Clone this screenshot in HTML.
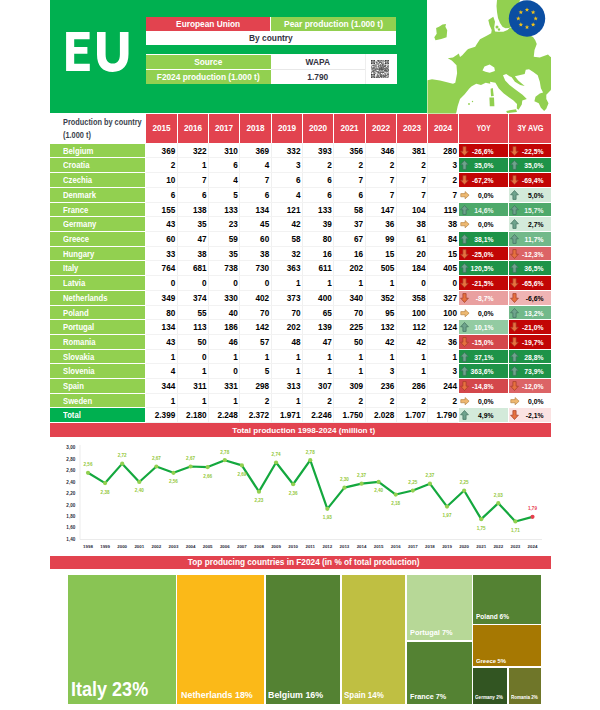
<!DOCTYPE html>
<html><head><meta charset="utf-8">
<style>
*{margin:0;padding:0;box-sizing:border-box}
html,body{width:600px;height:710px;background:#fff;overflow:hidden}
body{position:relative;font-family:"Liberation Sans",sans-serif;font-weight:bold}
.a{position:absolute}
.c{position:absolute;display:flex;align-items:center;justify-content:center;white-space:nowrap}
.num{position:absolute;text-align:right;white-space:nowrap;font-size:8.2px;color:#000}
.cn{position:absolute;left:50px;width:95px;background:#92d050;color:#fff;font-size:8.2px;padding-left:12.8px;padding-top:1.6px;display:flex;align-items:center}
</style></head><body>

<div class="a" style="left:50px;top:0;width:376.5px;height:113px;background:#00b050"></div>
<svg class="a" style="left:0;top:0" width="140" height="80" viewBox="0 0 140 80" fill="#fff"><path d="M66.1 32.1H89.6V39.2H74.2V47H87.4V53.8H74.2V63.8H89.8V70.9H66.1Z"/><path d="M97 32.1H105.6V54.2C105.6 60.6 108.2 63.6 112.8 63.6C117.4 63.6 119.9 60.6 119.9 54.2V32.1H128.5V54C128.5 65.6 122.6 71.9 112.7 71.9C102.6 71.9 97 65.8 97 54.4Z"/></svg>
<div class="a" style="left:145.8px;top:17px;width:250.2px;height:28px;background:#fff"></div>
<div class="c" style="left:145.8px;top:17px;width:124.7px;height:13.5px;background:#e2434f;color:#fff;font-size:8.3px">European Union</div>
<div class="c" style="left:271px;top:17px;width:125px;height:13.5px;background:#92d050;color:#fff;font-size:8.45px">Pear production (1.000 t)</div>
<div class="c" style="left:145.8px;top:30.5px;width:250.2px;height:14.5px;color:#33333f;font-size:8.4px">By country</div>
<div class="a" style="left:145.8px;top:54px;width:251px;height:30px;background:#fff"></div>
<div class="c" style="left:145.8px;top:54.8px;width:124.9px;height:14.2px;background:#92d050;color:#fff;font-size:8.3px">Source</div>
<div class="c" style="left:145.8px;top:70px;width:124.9px;height:14.2px;background:#92d050;color:#fff;font-size:8.3px">F2024 production (1.000 t)</div>
<div class="c" style="left:270.8px;top:54.5px;width:94px;height:14.5px;color:#33333f;font-size:8.4px">WAPA</div>
<div class="c" style="left:270.8px;top:69.5px;width:94px;height:14.5px;color:#33333f;font-size:8.4px">1.790</div>
<div class="a" style="left:270.8px;top:69px;width:94px;height:1px;background:#e8e8e8"></div>
<div class="a" style="left:364.8px;top:54px;width:1px;height:30px;background:#eeeeee"></div>
<svg class="a" style="left:370.8px;top:59.8px" width="18.2" height="18.2" viewBox="0 0 31 31" fill="#1a1a1a"><rect x="11" y="0" width="1.05" height="1.05"/><rect x="12" y="0" width="1.05" height="1.05"/><rect x="13" y="0" width="1.05" height="1.05"/><rect x="16" y="0" width="1.05" height="1.05"/><rect x="17" y="0" width="1.05" height="1.05"/><rect x="18" y="0" width="1.05" height="1.05"/><rect x="21" y="0" width="1.05" height="1.05"/><rect x="10" y="1" width="1.05" height="1.05"/><rect x="11" y="1" width="1.05" height="1.05"/><rect x="12" y="1" width="1.05" height="1.05"/><rect x="13" y="1" width="1.05" height="1.05"/><rect x="14" y="1" width="1.05" height="1.05"/><rect x="15" y="1" width="1.05" height="1.05"/><rect x="17" y="1" width="1.05" height="1.05"/><rect x="19" y="1" width="1.05" height="1.05"/><rect x="20" y="1" width="1.05" height="1.05"/><rect x="22" y="1" width="1.05" height="1.05"/><rect x="8" y="2" width="1.05" height="1.05"/><rect x="12" y="2" width="1.05" height="1.05"/><rect x="13" y="2" width="1.05" height="1.05"/><rect x="16" y="2" width="1.05" height="1.05"/><rect x="20" y="2" width="1.05" height="1.05"/><rect x="22" y="2" width="1.05" height="1.05"/><rect x="9" y="3" width="1.05" height="1.05"/><rect x="10" y="3" width="1.05" height="1.05"/><rect x="13" y="3" width="1.05" height="1.05"/><rect x="14" y="3" width="1.05" height="1.05"/><rect x="15" y="3" width="1.05" height="1.05"/><rect x="17" y="3" width="1.05" height="1.05"/><rect x="18" y="3" width="1.05" height="1.05"/><rect x="20" y="3" width="1.05" height="1.05"/><rect x="8" y="4" width="1.05" height="1.05"/><rect x="9" y="4" width="1.05" height="1.05"/><rect x="10" y="4" width="1.05" height="1.05"/><rect x="14" y="4" width="1.05" height="1.05"/><rect x="15" y="4" width="1.05" height="1.05"/><rect x="16" y="4" width="1.05" height="1.05"/><rect x="17" y="4" width="1.05" height="1.05"/><rect x="20" y="4" width="1.05" height="1.05"/><rect x="9" y="5" width="1.05" height="1.05"/><rect x="13" y="5" width="1.05" height="1.05"/><rect x="17" y="5" width="1.05" height="1.05"/><rect x="10" y="6" width="1.05" height="1.05"/><rect x="11" y="6" width="1.05" height="1.05"/><rect x="12" y="6" width="1.05" height="1.05"/><rect x="14" y="6" width="1.05" height="1.05"/><rect x="17" y="6" width="1.05" height="1.05"/><rect x="18" y="6" width="1.05" height="1.05"/><rect x="19" y="6" width="1.05" height="1.05"/><rect x="20" y="6" width="1.05" height="1.05"/><rect x="21" y="6" width="1.05" height="1.05"/><rect x="22" y="6" width="1.05" height="1.05"/><rect x="8" y="7" width="1.05" height="1.05"/><rect x="10" y="7" width="1.05" height="1.05"/><rect x="12" y="7" width="1.05" height="1.05"/><rect x="16" y="7" width="1.05" height="1.05"/><rect x="19" y="7" width="1.05" height="1.05"/><rect x="20" y="7" width="1.05" height="1.05"/><rect x="1" y="8" width="1.05" height="1.05"/><rect x="4" y="8" width="1.05" height="1.05"/><rect x="5" y="8" width="1.05" height="1.05"/><rect x="6" y="8" width="1.05" height="1.05"/><rect x="7" y="8" width="1.05" height="1.05"/><rect x="9" y="8" width="1.05" height="1.05"/><rect x="13" y="8" width="1.05" height="1.05"/><rect x="15" y="8" width="1.05" height="1.05"/><rect x="16" y="8" width="1.05" height="1.05"/><rect x="17" y="8" width="1.05" height="1.05"/><rect x="19" y="8" width="1.05" height="1.05"/><rect x="20" y="8" width="1.05" height="1.05"/><rect x="21" y="8" width="1.05" height="1.05"/><rect x="22" y="8" width="1.05" height="1.05"/><rect x="24" y="8" width="1.05" height="1.05"/><rect x="25" y="8" width="1.05" height="1.05"/><rect x="28" y="8" width="1.05" height="1.05"/><rect x="30" y="8" width="1.05" height="1.05"/><rect x="2" y="9" width="1.05" height="1.05"/><rect x="3" y="9" width="1.05" height="1.05"/><rect x="4" y="9" width="1.05" height="1.05"/><rect x="6" y="9" width="1.05" height="1.05"/><rect x="8" y="9" width="1.05" height="1.05"/><rect x="12" y="9" width="1.05" height="1.05"/><rect x="14" y="9" width="1.05" height="1.05"/><rect x="16" y="9" width="1.05" height="1.05"/><rect x="17" y="9" width="1.05" height="1.05"/><rect x="19" y="9" width="1.05" height="1.05"/><rect x="20" y="9" width="1.05" height="1.05"/><rect x="23" y="9" width="1.05" height="1.05"/><rect x="24" y="9" width="1.05" height="1.05"/><rect x="25" y="9" width="1.05" height="1.05"/><rect x="29" y="9" width="1.05" height="1.05"/><rect x="0" y="10" width="1.05" height="1.05"/><rect x="4" y="10" width="1.05" height="1.05"/><rect x="6" y="10" width="1.05" height="1.05"/><rect x="7" y="10" width="1.05" height="1.05"/><rect x="9" y="10" width="1.05" height="1.05"/><rect x="10" y="10" width="1.05" height="1.05"/><rect x="12" y="10" width="1.05" height="1.05"/><rect x="15" y="10" width="1.05" height="1.05"/><rect x="16" y="10" width="1.05" height="1.05"/><rect x="19" y="10" width="1.05" height="1.05"/><rect x="20" y="10" width="1.05" height="1.05"/><rect x="22" y="10" width="1.05" height="1.05"/><rect x="23" y="10" width="1.05" height="1.05"/><rect x="24" y="10" width="1.05" height="1.05"/><rect x="27" y="10" width="1.05" height="1.05"/><rect x="28" y="10" width="1.05" height="1.05"/><rect x="1" y="11" width="1.05" height="1.05"/><rect x="6" y="11" width="1.05" height="1.05"/><rect x="8" y="11" width="1.05" height="1.05"/><rect x="12" y="11" width="1.05" height="1.05"/><rect x="13" y="11" width="1.05" height="1.05"/><rect x="15" y="11" width="1.05" height="1.05"/><rect x="17" y="11" width="1.05" height="1.05"/><rect x="18" y="11" width="1.05" height="1.05"/><rect x="20" y="11" width="1.05" height="1.05"/><rect x="21" y="11" width="1.05" height="1.05"/><rect x="22" y="11" width="1.05" height="1.05"/><rect x="23" y="11" width="1.05" height="1.05"/><rect x="24" y="11" width="1.05" height="1.05"/><rect x="28" y="11" width="1.05" height="1.05"/><rect x="29" y="11" width="1.05" height="1.05"/><rect x="30" y="11" width="1.05" height="1.05"/><rect x="1" y="12" width="1.05" height="1.05"/><rect x="3" y="12" width="1.05" height="1.05"/><rect x="4" y="12" width="1.05" height="1.05"/><rect x="6" y="12" width="1.05" height="1.05"/><rect x="8" y="12" width="1.05" height="1.05"/><rect x="12" y="12" width="1.05" height="1.05"/><rect x="14" y="12" width="1.05" height="1.05"/><rect x="16" y="12" width="1.05" height="1.05"/><rect x="17" y="12" width="1.05" height="1.05"/><rect x="18" y="12" width="1.05" height="1.05"/><rect x="19" y="12" width="1.05" height="1.05"/><rect x="21" y="12" width="1.05" height="1.05"/><rect x="24" y="12" width="1.05" height="1.05"/><rect x="26" y="12" width="1.05" height="1.05"/><rect x="27" y="12" width="1.05" height="1.05"/><rect x="29" y="12" width="1.05" height="1.05"/><rect x="0" y="13" width="1.05" height="1.05"/><rect x="1" y="13" width="1.05" height="1.05"/><rect x="3" y="13" width="1.05" height="1.05"/><rect x="5" y="13" width="1.05" height="1.05"/><rect x="6" y="13" width="1.05" height="1.05"/><rect x="9" y="13" width="1.05" height="1.05"/><rect x="10" y="13" width="1.05" height="1.05"/><rect x="14" y="13" width="1.05" height="1.05"/><rect x="16" y="13" width="1.05" height="1.05"/><rect x="17" y="13" width="1.05" height="1.05"/><rect x="18" y="13" width="1.05" height="1.05"/><rect x="20" y="13" width="1.05" height="1.05"/><rect x="21" y="13" width="1.05" height="1.05"/><rect x="22" y="13" width="1.05" height="1.05"/><rect x="26" y="13" width="1.05" height="1.05"/><rect x="28" y="13" width="1.05" height="1.05"/><rect x="1" y="14" width="1.05" height="1.05"/><rect x="2" y="14" width="1.05" height="1.05"/><rect x="3" y="14" width="1.05" height="1.05"/><rect x="4" y="14" width="1.05" height="1.05"/><rect x="5" y="14" width="1.05" height="1.05"/><rect x="7" y="14" width="1.05" height="1.05"/><rect x="9" y="14" width="1.05" height="1.05"/><rect x="10" y="14" width="1.05" height="1.05"/><rect x="13" y="14" width="1.05" height="1.05"/><rect x="14" y="14" width="1.05" height="1.05"/><rect x="15" y="14" width="1.05" height="1.05"/><rect x="16" y="14" width="1.05" height="1.05"/><rect x="17" y="14" width="1.05" height="1.05"/><rect x="18" y="14" width="1.05" height="1.05"/><rect x="19" y="14" width="1.05" height="1.05"/><rect x="21" y="14" width="1.05" height="1.05"/><rect x="22" y="14" width="1.05" height="1.05"/><rect x="23" y="14" width="1.05" height="1.05"/><rect x="24" y="14" width="1.05" height="1.05"/><rect x="25" y="14" width="1.05" height="1.05"/><rect x="26" y="14" width="1.05" height="1.05"/><rect x="27" y="14" width="1.05" height="1.05"/><rect x="28" y="14" width="1.05" height="1.05"/><rect x="30" y="14" width="1.05" height="1.05"/><rect x="3" y="15" width="1.05" height="1.05"/><rect x="5" y="15" width="1.05" height="1.05"/><rect x="7" y="15" width="1.05" height="1.05"/><rect x="10" y="15" width="1.05" height="1.05"/><rect x="11" y="15" width="1.05" height="1.05"/><rect x="12" y="15" width="1.05" height="1.05"/><rect x="13" y="15" width="1.05" height="1.05"/><rect x="14" y="15" width="1.05" height="1.05"/><rect x="15" y="15" width="1.05" height="1.05"/><rect x="17" y="15" width="1.05" height="1.05"/><rect x="18" y="15" width="1.05" height="1.05"/><rect x="19" y="15" width="1.05" height="1.05"/><rect x="20" y="15" width="1.05" height="1.05"/><rect x="23" y="15" width="1.05" height="1.05"/><rect x="24" y="15" width="1.05" height="1.05"/><rect x="28" y="15" width="1.05" height="1.05"/><rect x="30" y="15" width="1.05" height="1.05"/><rect x="0" y="16" width="1.05" height="1.05"/><rect x="2" y="16" width="1.05" height="1.05"/><rect x="3" y="16" width="1.05" height="1.05"/><rect x="6" y="16" width="1.05" height="1.05"/><rect x="7" y="16" width="1.05" height="1.05"/><rect x="8" y="16" width="1.05" height="1.05"/><rect x="9" y="16" width="1.05" height="1.05"/><rect x="11" y="16" width="1.05" height="1.05"/><rect x="13" y="16" width="1.05" height="1.05"/><rect x="14" y="16" width="1.05" height="1.05"/><rect x="15" y="16" width="1.05" height="1.05"/><rect x="16" y="16" width="1.05" height="1.05"/><rect x="17" y="16" width="1.05" height="1.05"/><rect x="18" y="16" width="1.05" height="1.05"/><rect x="19" y="16" width="1.05" height="1.05"/><rect x="20" y="16" width="1.05" height="1.05"/><rect x="21" y="16" width="1.05" height="1.05"/><rect x="22" y="16" width="1.05" height="1.05"/><rect x="24" y="16" width="1.05" height="1.05"/><rect x="25" y="16" width="1.05" height="1.05"/><rect x="26" y="16" width="1.05" height="1.05"/><rect x="28" y="16" width="1.05" height="1.05"/><rect x="29" y="16" width="1.05" height="1.05"/><rect x="30" y="16" width="1.05" height="1.05"/><rect x="4" y="17" width="1.05" height="1.05"/><rect x="5" y="17" width="1.05" height="1.05"/><rect x="7" y="17" width="1.05" height="1.05"/><rect x="9" y="17" width="1.05" height="1.05"/><rect x="13" y="17" width="1.05" height="1.05"/><rect x="14" y="17" width="1.05" height="1.05"/><rect x="16" y="17" width="1.05" height="1.05"/><rect x="17" y="17" width="1.05" height="1.05"/><rect x="18" y="17" width="1.05" height="1.05"/><rect x="19" y="17" width="1.05" height="1.05"/><rect x="22" y="17" width="1.05" height="1.05"/><rect x="23" y="17" width="1.05" height="1.05"/><rect x="24" y="17" width="1.05" height="1.05"/><rect x="25" y="17" width="1.05" height="1.05"/><rect x="26" y="17" width="1.05" height="1.05"/><rect x="27" y="17" width="1.05" height="1.05"/><rect x="29" y="17" width="1.05" height="1.05"/><rect x="30" y="17" width="1.05" height="1.05"/><rect x="1" y="18" width="1.05" height="1.05"/><rect x="2" y="18" width="1.05" height="1.05"/><rect x="3" y="18" width="1.05" height="1.05"/><rect x="4" y="18" width="1.05" height="1.05"/><rect x="5" y="18" width="1.05" height="1.05"/><rect x="6" y="18" width="1.05" height="1.05"/><rect x="7" y="18" width="1.05" height="1.05"/><rect x="14" y="18" width="1.05" height="1.05"/><rect x="20" y="18" width="1.05" height="1.05"/><rect x="22" y="18" width="1.05" height="1.05"/><rect x="23" y="18" width="1.05" height="1.05"/><rect x="24" y="18" width="1.05" height="1.05"/><rect x="25" y="18" width="1.05" height="1.05"/><rect x="26" y="18" width="1.05" height="1.05"/><rect x="28" y="18" width="1.05" height="1.05"/><rect x="29" y="18" width="1.05" height="1.05"/><rect x="1" y="19" width="1.05" height="1.05"/><rect x="2" y="19" width="1.05" height="1.05"/><rect x="3" y="19" width="1.05" height="1.05"/><rect x="4" y="19" width="1.05" height="1.05"/><rect x="8" y="19" width="1.05" height="1.05"/><rect x="9" y="19" width="1.05" height="1.05"/><rect x="10" y="19" width="1.05" height="1.05"/><rect x="11" y="19" width="1.05" height="1.05"/><rect x="12" y="19" width="1.05" height="1.05"/><rect x="16" y="19" width="1.05" height="1.05"/><rect x="18" y="19" width="1.05" height="1.05"/><rect x="20" y="19" width="1.05" height="1.05"/><rect x="23" y="19" width="1.05" height="1.05"/><rect x="24" y="19" width="1.05" height="1.05"/><rect x="26" y="19" width="1.05" height="1.05"/><rect x="27" y="19" width="1.05" height="1.05"/><rect x="28" y="19" width="1.05" height="1.05"/><rect x="3" y="20" width="1.05" height="1.05"/><rect x="5" y="20" width="1.05" height="1.05"/><rect x="6" y="20" width="1.05" height="1.05"/><rect x="8" y="20" width="1.05" height="1.05"/><rect x="10" y="20" width="1.05" height="1.05"/><rect x="12" y="20" width="1.05" height="1.05"/><rect x="13" y="20" width="1.05" height="1.05"/><rect x="14" y="20" width="1.05" height="1.05"/><rect x="15" y="20" width="1.05" height="1.05"/><rect x="17" y="20" width="1.05" height="1.05"/><rect x="19" y="20" width="1.05" height="1.05"/><rect x="20" y="20" width="1.05" height="1.05"/><rect x="21" y="20" width="1.05" height="1.05"/><rect x="26" y="20" width="1.05" height="1.05"/><rect x="27" y="20" width="1.05" height="1.05"/><rect x="29" y="20" width="1.05" height="1.05"/><rect x="30" y="20" width="1.05" height="1.05"/><rect x="0" y="21" width="1.05" height="1.05"/><rect x="1" y="21" width="1.05" height="1.05"/><rect x="4" y="21" width="1.05" height="1.05"/><rect x="6" y="21" width="1.05" height="1.05"/><rect x="11" y="21" width="1.05" height="1.05"/><rect x="12" y="21" width="1.05" height="1.05"/><rect x="13" y="21" width="1.05" height="1.05"/><rect x="15" y="21" width="1.05" height="1.05"/><rect x="16" y="21" width="1.05" height="1.05"/><rect x="17" y="21" width="1.05" height="1.05"/><rect x="18" y="21" width="1.05" height="1.05"/><rect x="19" y="21" width="1.05" height="1.05"/><rect x="20" y="21" width="1.05" height="1.05"/><rect x="21" y="21" width="1.05" height="1.05"/><rect x="23" y="21" width="1.05" height="1.05"/><rect x="0" y="22" width="1.05" height="1.05"/><rect x="4" y="22" width="1.05" height="1.05"/><rect x="5" y="22" width="1.05" height="1.05"/><rect x="6" y="22" width="1.05" height="1.05"/><rect x="7" y="22" width="1.05" height="1.05"/><rect x="11" y="22" width="1.05" height="1.05"/><rect x="13" y="22" width="1.05" height="1.05"/><rect x="15" y="22" width="1.05" height="1.05"/><rect x="24" y="22" width="1.05" height="1.05"/><rect x="25" y="22" width="1.05" height="1.05"/><rect x="27" y="22" width="1.05" height="1.05"/><rect x="30" y="22" width="1.05" height="1.05"/><rect x="8" y="23" width="1.05" height="1.05"/><rect x="12" y="23" width="1.05" height="1.05"/><rect x="14" y="23" width="1.05" height="1.05"/><rect x="15" y="23" width="1.05" height="1.05"/><rect x="16" y="23" width="1.05" height="1.05"/><rect x="19" y="23" width="1.05" height="1.05"/><rect x="22" y="23" width="1.05" height="1.05"/><rect x="23" y="23" width="1.05" height="1.05"/><rect x="28" y="23" width="1.05" height="1.05"/><rect x="29" y="23" width="1.05" height="1.05"/><rect x="10" y="24" width="1.05" height="1.05"/><rect x="11" y="24" width="1.05" height="1.05"/><rect x="16" y="24" width="1.05" height="1.05"/><rect x="17" y="24" width="1.05" height="1.05"/><rect x="20" y="24" width="1.05" height="1.05"/><rect x="24" y="24" width="1.05" height="1.05"/><rect x="27" y="24" width="1.05" height="1.05"/><rect x="28" y="24" width="1.05" height="1.05"/><rect x="29" y="24" width="1.05" height="1.05"/><rect x="30" y="24" width="1.05" height="1.05"/><rect x="13" y="25" width="1.05" height="1.05"/><rect x="14" y="25" width="1.05" height="1.05"/><rect x="15" y="25" width="1.05" height="1.05"/><rect x="16" y="25" width="1.05" height="1.05"/><rect x="17" y="25" width="1.05" height="1.05"/><rect x="18" y="25" width="1.05" height="1.05"/><rect x="21" y="25" width="1.05" height="1.05"/><rect x="22" y="25" width="1.05" height="1.05"/><rect x="24" y="25" width="1.05" height="1.05"/><rect x="25" y="25" width="1.05" height="1.05"/><rect x="27" y="25" width="1.05" height="1.05"/><rect x="29" y="25" width="1.05" height="1.05"/><rect x="10" y="26" width="1.05" height="1.05"/><rect x="11" y="26" width="1.05" height="1.05"/><rect x="12" y="26" width="1.05" height="1.05"/><rect x="16" y="26" width="1.05" height="1.05"/><rect x="17" y="26" width="1.05" height="1.05"/><rect x="19" y="26" width="1.05" height="1.05"/><rect x="20" y="26" width="1.05" height="1.05"/><rect x="21" y="26" width="1.05" height="1.05"/><rect x="22" y="26" width="1.05" height="1.05"/><rect x="24" y="26" width="1.05" height="1.05"/><rect x="25" y="26" width="1.05" height="1.05"/><rect x="26" y="26" width="1.05" height="1.05"/><rect x="27" y="26" width="1.05" height="1.05"/><rect x="30" y="26" width="1.05" height="1.05"/><rect x="8" y="27" width="1.05" height="1.05"/><rect x="9" y="27" width="1.05" height="1.05"/><rect x="10" y="27" width="1.05" height="1.05"/><rect x="11" y="27" width="1.05" height="1.05"/><rect x="12" y="27" width="1.05" height="1.05"/><rect x="13" y="27" width="1.05" height="1.05"/><rect x="15" y="27" width="1.05" height="1.05"/><rect x="16" y="27" width="1.05" height="1.05"/><rect x="17" y="27" width="1.05" height="1.05"/><rect x="18" y="27" width="1.05" height="1.05"/><rect x="21" y="27" width="1.05" height="1.05"/><rect x="22" y="27" width="1.05" height="1.05"/><rect x="23" y="27" width="1.05" height="1.05"/><rect x="25" y="27" width="1.05" height="1.05"/><rect x="30" y="27" width="1.05" height="1.05"/><rect x="10" y="28" width="1.05" height="1.05"/><rect x="12" y="28" width="1.05" height="1.05"/><rect x="15" y="28" width="1.05" height="1.05"/><rect x="16" y="28" width="1.05" height="1.05"/><rect x="17" y="28" width="1.05" height="1.05"/><rect x="18" y="28" width="1.05" height="1.05"/><rect x="19" y="28" width="1.05" height="1.05"/><rect x="21" y="28" width="1.05" height="1.05"/><rect x="22" y="28" width="1.05" height="1.05"/><rect x="23" y="28" width="1.05" height="1.05"/><rect x="24" y="28" width="1.05" height="1.05"/><rect x="25" y="28" width="1.05" height="1.05"/><rect x="28" y="28" width="1.05" height="1.05"/><rect x="29" y="28" width="1.05" height="1.05"/><rect x="8" y="29" width="1.05" height="1.05"/><rect x="9" y="29" width="1.05" height="1.05"/><rect x="11" y="29" width="1.05" height="1.05"/><rect x="13" y="29" width="1.05" height="1.05"/><rect x="14" y="29" width="1.05" height="1.05"/><rect x="17" y="29" width="1.05" height="1.05"/><rect x="18" y="29" width="1.05" height="1.05"/><rect x="20" y="29" width="1.05" height="1.05"/><rect x="21" y="29" width="1.05" height="1.05"/><rect x="22" y="29" width="1.05" height="1.05"/><rect x="25" y="29" width="1.05" height="1.05"/><rect x="27" y="29" width="1.05" height="1.05"/><rect x="30" y="29" width="1.05" height="1.05"/><rect x="8" y="30" width="1.05" height="1.05"/><rect x="9" y="30" width="1.05" height="1.05"/><rect x="10" y="30" width="1.05" height="1.05"/><rect x="11" y="30" width="1.05" height="1.05"/><rect x="12" y="30" width="1.05" height="1.05"/><rect x="13" y="30" width="1.05" height="1.05"/><rect x="14" y="30" width="1.05" height="1.05"/><rect x="15" y="30" width="1.05" height="1.05"/><rect x="18" y="30" width="1.05" height="1.05"/><rect x="24" y="30" width="1.05" height="1.05"/><rect x="25" y="30" width="1.05" height="1.05"/><rect x="27" y="30" width="1.05" height="1.05"/><rect x="28" y="30" width="1.05" height="1.05"/><rect x="0.6" y="0.6" width="5.8" height="5.8" fill="none" stroke="#111" stroke-width="1.0"/><rect x="2.3" y="2.3" width="2.4" height="2.4"/><rect x="24.6" y="0.6" width="5.8" height="5.8" fill="none" stroke="#111" stroke-width="1.0"/><rect x="26.3" y="2.3" width="2.4" height="2.4"/><rect x="0.6" y="24.6" width="5.8" height="5.8" fill="none" stroke="#111" stroke-width="1.0"/><rect x="2.3" y="26.3" width="2.4" height="2.4"/></svg>
<svg class="a" style="left:425px;top:0" width="130" height="114" viewBox="425 0 130 114">
<g fill="#92d050"><polygon points="427.5,80.3 432,79.2 440,80.5 448,82.5 453,83.8 455.3,82.7 457.1,73.3 456.5,65.2 451.8,60.5 447.75,58.2 453,57.6 457.1,54.7 458.8,53.5 460,57 462.3,55.25 467,50 468.2,49 475.2,46.7 476.7,44.2 480,39.2 486.7,35.8 491.2,33.3 491.7,30 489.5,25 488.3,20 493.3,16.7 495,21.7 494.2,27.5 495,31.5 497.5,31.7 503.3,31.7 507.5,30 510,27.5 520,30 533,36.9 535.25,40.25 536.75,44 534.5,50 533.75,56.75 539.75,57.5 548,54.5 550.25,56.75 551,57 551,89.3 550.7,90.3 546.3,94.7 546.3,99 548.5,103.3 546.3,108.75 544.2,110.9 540.9,107.7 538.75,103.3 534.4,101.2 535.5,96.8 539.8,93.6 543.1,92.5 540.9,88.2 539.8,81.7 537.7,75.2 533.3,71.9 529,69.2 525.75,69.75 524.7,74.1 514.9,76.25 518.2,80.6 524.7,86 520.3,85 514.9,81.7 511.7,77.3 509.5,76.25 506.25,74.1 503,75.2 505.2,80.6 509.5,84.9 515,89.25 522.5,94.7 526.8,99 522.3,100.5 521.8,104.5 518.5,109.8 516.8,108.5 517,104 513.5,100.5 508.5,97 503.5,93.2 498.8,88.5 495.4,82.75 490,81.7 490.3,83.8 485.7,82.7 481,85 476.3,83.8 471.7,86.2 469.3,88.5 464.7,94.3 460,99 457.7,106 456.5,111.8 456,113.5 427.5,113.5"/><polygon points="434.3,37.3 436.7,33.8 436.1,28 439,26.8 442.5,24.5 446,23.9 445.4,26.8 447.2,30.3 446.6,37.3 441.3,39.1 435.5,40.3"/><polygon points="497,0 496.5,6 497,12 498,18 500,23 502.5,26.8 505.5,28.2 509,28 512,26.5 515,15 520,0"/><polygon points="490.6,88.75 492.8,88 493.75,96 491,96.25"/><polygon points="489.4,97.5 494,97.5 494.4,106.25 489.8,106.25"/><polygon points="506.25,110.9 516,109.3 517,112 507,113"/><circle cx="469" cy="104" r="0.9"/><circle cx="472.5" cy="101.5" r="0.7"/><circle cx="497" cy="27" r="1.5"/><circle cx="499" cy="29.5" r="1.2"/></g>
<polygon points="482.5,70.5 484.5,66.5 489.7,64.6 494.3,67.5 494.9,71 489.7,72.8 485.5,71.8" fill="#fff"/>
<circle cx="527" cy="18.5" r="18.2" fill="#0b4ea2"/>
<polygon points="527.00,7.45 527.59,8.99 529.23,9.07 527.95,10.11 528.38,11.70 527.00,10.80 525.62,11.70 526.05,10.11 524.77,9.07 526.41,8.99" fill="#f2c21a"/>
<polygon points="533.15,10.00 533.74,11.54 535.39,11.62 534.10,12.66 534.53,14.25 533.15,13.35 531.77,14.25 532.20,12.66 530.92,11.62 532.56,11.54" fill="#f2c21a"/>
<polygon points="535.70,16.15 536.29,17.69 537.93,17.77 536.65,18.81 537.08,20.40 535.70,19.50 534.32,20.40 534.75,18.81 533.47,17.77 535.11,17.69" fill="#f2c21a"/>
<polygon points="533.15,22.30 533.74,23.84 535.39,23.93 534.10,24.96 534.53,26.55 533.15,25.65 531.77,26.55 532.20,24.96 530.92,23.93 532.56,23.84" fill="#f2c21a"/>
<polygon points="527.00,24.85 527.59,26.39 529.23,26.47 527.95,27.51 528.38,29.10 527.00,28.20 525.62,29.10 526.05,27.51 524.77,26.47 526.41,26.39" fill="#f2c21a"/>
<polygon points="520.85,22.30 521.44,23.84 523.08,23.93 521.80,24.96 522.23,26.55 520.85,25.65 519.47,26.55 519.90,24.96 518.61,23.93 520.26,23.84" fill="#f2c21a"/>
<polygon points="518.30,16.15 518.89,17.69 520.53,17.77 519.25,18.81 519.68,20.40 518.30,19.50 516.92,20.40 517.35,18.81 516.07,17.77 517.71,17.69" fill="#f2c21a"/>
<polygon points="520.85,10.00 521.44,11.54 523.08,11.62 521.80,12.66 522.23,14.25 520.85,13.35 519.47,14.25 519.90,12.66 518.61,11.62 520.26,11.54" fill="#f2c21a"/>
</svg>
<div class="a" style="left:63px;top:117.3px;font-size:8.2px;line-height:12.2px;color:#3a3f4c;transform:scaleX(0.9);transform-origin:0 0">Production by country<br>(1.000 t)</div>
<div class="c" style="left:146px;top:114px;width:31px;height:28.5px;background:#e2434f;color:#fff;font-size:8.2px">2015</div>
<div class="c" style="left:178px;top:114px;width:30px;height:28.5px;background:#e2434f;color:#fff;font-size:8.2px">2016</div>
<div class="c" style="left:209px;top:114px;width:30px;height:28.5px;background:#e2434f;color:#fff;font-size:8.2px">2017</div>
<div class="c" style="left:240px;top:114px;width:31px;height:28.5px;background:#e2434f;color:#fff;font-size:8.2px">2018</div>
<div class="c" style="left:272px;top:114px;width:30px;height:28.5px;background:#e2434f;color:#fff;font-size:8.2px">2019</div>
<div class="c" style="left:303px;top:114px;width:30px;height:28.5px;background:#e2434f;color:#fff;font-size:8.2px">2020</div>
<div class="c" style="left:334px;top:114px;width:31px;height:28.5px;background:#e2434f;color:#fff;font-size:8.2px">2021</div>
<div class="c" style="left:366px;top:114px;width:30px;height:28.5px;background:#e2434f;color:#fff;font-size:8.2px">2022</div>
<div class="c" style="left:397px;top:114px;width:30px;height:28.5px;background:#e2434f;color:#fff;font-size:8.2px">2023</div>
<div class="c" style="left:428px;top:114px;width:30px;height:28.5px;background:#e2434f;color:#fff;font-size:8.2px">2024</div>
<div class="c" style="left:459px;top:114px;width:49px;height:28.5px;background:#e2434f;color:#fff;font-size:8.2px"><span style="display:inline-block;transform:scaleX(0.8)">YOY</span></div>
<div class="c" style="left:509px;top:114px;width:42px;height:28.5px;background:#e2434f;color:#fff;font-size:8.2px"><span style="display:inline-block;transform:scaleX(0.9)">3Y AVG</span></div>
<div class="a" style="left:177px;top:143px;width:1px;height:279.5px;background:#f0f0f0"></div>
<div class="a" style="left:208px;top:143px;width:1px;height:279.5px;background:#f0f0f0"></div>
<div class="a" style="left:239px;top:143px;width:1px;height:279.5px;background:#f0f0f0"></div>
<div class="a" style="left:271px;top:143px;width:1px;height:279.5px;background:#f0f0f0"></div>
<div class="a" style="left:302px;top:143px;width:1px;height:279.5px;background:#f0f0f0"></div>
<div class="a" style="left:333px;top:143px;width:1px;height:279.5px;background:#f0f0f0"></div>
<div class="a" style="left:365px;top:143px;width:1px;height:279.5px;background:#f0f0f0"></div>
<div class="a" style="left:396px;top:143px;width:1px;height:279.5px;background:#f0f0f0"></div>
<div class="a" style="left:427px;top:143px;width:1px;height:279.5px;background:#f0f0f0"></div>
<div class="a" style="left:146px;top:157.00px;width:312px;height:0.8px;background:#f2f2f2"></div>
<div class="a" style="left:146px;top:172.00px;width:312px;height:0.8px;background:#f2f2f2"></div>
<div class="a" style="left:146px;top:187.00px;width:312px;height:0.8px;background:#f2f2f2"></div>
<div class="a" style="left:146px;top:202.00px;width:312px;height:0.8px;background:#f2f2f2"></div>
<div class="a" style="left:146px;top:216.00px;width:312px;height:0.8px;background:#f2f2f2"></div>
<div class="a" style="left:146px;top:231.00px;width:312px;height:0.8px;background:#f2f2f2"></div>
<div class="a" style="left:146px;top:246.00px;width:312px;height:0.8px;background:#f2f2f2"></div>
<div class="a" style="left:146px;top:260.00px;width:312px;height:0.8px;background:#f2f2f2"></div>
<div class="a" style="left:146px;top:275.00px;width:312px;height:0.8px;background:#f2f2f2"></div>
<div class="a" style="left:146px;top:290.00px;width:312px;height:0.8px;background:#f2f2f2"></div>
<div class="a" style="left:146px;top:305.00px;width:312px;height:0.8px;background:#f2f2f2"></div>
<div class="a" style="left:146px;top:319.00px;width:312px;height:0.8px;background:#f2f2f2"></div>
<div class="a" style="left:146px;top:334.00px;width:312px;height:0.8px;background:#f2f2f2"></div>
<div class="a" style="left:146px;top:349.00px;width:312px;height:0.8px;background:#f2f2f2"></div>
<div class="a" style="left:146px;top:363.00px;width:312px;height:0.8px;background:#f2f2f2"></div>
<div class="a" style="left:146px;top:378.00px;width:312px;height:0.8px;background:#f2f2f2"></div>
<div class="a" style="left:146px;top:393.00px;width:312px;height:0.8px;background:#f2f2f2"></div>
<div class="a" style="left:146px;top:407.00px;width:312px;height:0.8px;background:#f2f2f2"></div>
<div class="a" style="left:146px;top:422.00px;width:312px;height:0.8px;background:#f2f2f2"></div>
<div class="cn" style="top:144.00px;height:13.00px;background:#92d050"><span style="display:inline-block;transform:scaleX(0.94);transform-origin:0 50%">Belgium</span></div>
<div class="num" style="left:146.40px;top:145.00px;width:28.90px;line-height:13.00px">369</div>
<div class="num" style="left:177.70px;top:145.00px;width:28.90px;line-height:13.00px">322</div>
<div class="num" style="left:209.00px;top:145.00px;width:28.90px;line-height:13.00px">310</div>
<div class="num" style="left:240.30px;top:145.00px;width:28.90px;line-height:13.00px">369</div>
<div class="num" style="left:271.60px;top:145.00px;width:28.90px;line-height:13.00px">332</div>
<div class="num" style="left:302.90px;top:145.00px;width:28.90px;line-height:13.00px">393</div>
<div class="num" style="left:334.20px;top:145.00px;width:28.90px;line-height:13.00px">356</div>
<div class="num" style="left:365.50px;top:145.00px;width:28.90px;line-height:13.00px">346</div>
<div class="num" style="left:396.80px;top:145.00px;width:28.90px;line-height:13.00px">381</div>
<div class="num" style="left:428.10px;top:145.00px;width:28.90px;line-height:13.00px">280</div>
<div class="a" style="left:459px;top:144.00px;width:49px;height:13.00px;background:#c20505"></div>
<svg class="a" style="left:460.3px;top:146.4px" width="9" height="10" viewBox="0 0 9 10"><path d="M4.5 9.5L8.4 5.2H6.1V0.6H2.9V5.2H0.6Z" fill="#e6713f" stroke="#a33b25" stroke-width="0.7" stroke-linejoin="round"/></svg>
<div class="num" style="left:459px;top:144.60px;width:34.50px;line-height:13.00px;font-size:6.8px;color:#ffffff">-26,6%</div>
<div class="a" style="left:509px;top:144.00px;width:42px;height:13.00px;background:#c20505"></div>
<svg class="a" style="left:510.3px;top:146.4px" width="9" height="10" viewBox="0 0 9 10"><path d="M4.5 9.5L8.4 5.2H6.1V0.6H2.9V5.2H0.6Z" fill="#e6713f" stroke="#a33b25" stroke-width="0.7" stroke-linejoin="round"/></svg>
<div class="num" style="left:509px;top:144.60px;width:34.50px;line-height:13.00px;font-size:6.8px;color:#ffffff">-22,5%</div>
<div class="cn" style="top:158.00px;height:14.00px;background:#92d050"><span style="display:inline-block;transform:scaleX(0.94);transform-origin:0 50%">Croatia</span></div>
<div class="num" style="left:146.40px;top:159.00px;width:28.90px;line-height:14.00px">2</div>
<div class="num" style="left:177.70px;top:159.00px;width:28.90px;line-height:14.00px">1</div>
<div class="num" style="left:209.00px;top:159.00px;width:28.90px;line-height:14.00px">6</div>
<div class="num" style="left:240.30px;top:159.00px;width:28.90px;line-height:14.00px">4</div>
<div class="num" style="left:271.60px;top:159.00px;width:28.90px;line-height:14.00px">3</div>
<div class="num" style="left:302.90px;top:159.00px;width:28.90px;line-height:14.00px">2</div>
<div class="num" style="left:334.20px;top:159.00px;width:28.90px;line-height:14.00px">2</div>
<div class="num" style="left:365.50px;top:159.00px;width:28.90px;line-height:14.00px">2</div>
<div class="num" style="left:396.80px;top:159.00px;width:28.90px;line-height:14.00px">2</div>
<div class="num" style="left:428.10px;top:159.00px;width:28.90px;line-height:14.00px">3</div>
<div class="a" style="left:459px;top:158.00px;width:49px;height:14.00px;background:#1e9348"></div>
<svg class="a" style="left:460.3px;top:160.4px" width="9" height="10" viewBox="0 0 9 10"><path d="M4.5 0.5L8.4 4.8H6.1V9.4H2.9V4.8H0.6Z" fill="#6fa38d" stroke="#3f6f5b" stroke-width="0.7" stroke-linejoin="round"/></svg>
<div class="num" style="left:459px;top:158.60px;width:34.50px;line-height:14.00px;font-size:6.8px;color:#ffffff">35,0%</div>
<div class="a" style="left:509px;top:158.00px;width:42px;height:14.00px;background:#1e9348"></div>
<svg class="a" style="left:510.3px;top:160.4px" width="9" height="10" viewBox="0 0 9 10"><path d="M4.5 0.5L8.4 4.8H6.1V9.4H2.9V4.8H0.6Z" fill="#6fa38d" stroke="#3f6f5b" stroke-width="0.7" stroke-linejoin="round"/></svg>
<div class="num" style="left:509px;top:158.60px;width:34.50px;line-height:14.00px;font-size:6.8px;color:#ffffff">35,0%</div>
<div class="cn" style="top:173.00px;height:14.00px;background:#92d050"><span style="display:inline-block;transform:scaleX(0.94);transform-origin:0 50%">Czechia</span></div>
<div class="num" style="left:146.40px;top:174.00px;width:28.90px;line-height:14.00px">10</div>
<div class="num" style="left:177.70px;top:174.00px;width:28.90px;line-height:14.00px">7</div>
<div class="num" style="left:209.00px;top:174.00px;width:28.90px;line-height:14.00px">4</div>
<div class="num" style="left:240.30px;top:174.00px;width:28.90px;line-height:14.00px">7</div>
<div class="num" style="left:271.60px;top:174.00px;width:28.90px;line-height:14.00px">6</div>
<div class="num" style="left:302.90px;top:174.00px;width:28.90px;line-height:14.00px">6</div>
<div class="num" style="left:334.20px;top:174.00px;width:28.90px;line-height:14.00px">7</div>
<div class="num" style="left:365.50px;top:174.00px;width:28.90px;line-height:14.00px">7</div>
<div class="num" style="left:396.80px;top:174.00px;width:28.90px;line-height:14.00px">7</div>
<div class="num" style="left:428.10px;top:174.00px;width:28.90px;line-height:14.00px">2</div>
<div class="a" style="left:459px;top:173.00px;width:49px;height:14.00px;background:#c20505"></div>
<svg class="a" style="left:460.3px;top:175.4px" width="9" height="10" viewBox="0 0 9 10"><path d="M4.5 9.5L8.4 5.2H6.1V0.6H2.9V5.2H0.6Z" fill="#e6713f" stroke="#a33b25" stroke-width="0.7" stroke-linejoin="round"/></svg>
<div class="num" style="left:459px;top:173.60px;width:34.50px;line-height:14.00px;font-size:6.8px;color:#ffffff">-67,2%</div>
<div class="a" style="left:509px;top:173.00px;width:42px;height:14.00px;background:#c20505"></div>
<svg class="a" style="left:510.3px;top:175.4px" width="9" height="10" viewBox="0 0 9 10"><path d="M4.5 9.5L8.4 5.2H6.1V0.6H2.9V5.2H0.6Z" fill="#e6713f" stroke="#a33b25" stroke-width="0.7" stroke-linejoin="round"/></svg>
<div class="num" style="left:509px;top:173.60px;width:34.50px;line-height:14.00px;font-size:6.8px;color:#ffffff">-69,4%</div>
<div class="cn" style="top:188.00px;height:14.00px;background:#92d050"><span style="display:inline-block;transform:scaleX(0.94);transform-origin:0 50%">Denmark</span></div>
<div class="num" style="left:146.40px;top:189.00px;width:28.90px;line-height:14.00px">6</div>
<div class="num" style="left:177.70px;top:189.00px;width:28.90px;line-height:14.00px">6</div>
<div class="num" style="left:209.00px;top:189.00px;width:28.90px;line-height:14.00px">5</div>
<div class="num" style="left:240.30px;top:189.00px;width:28.90px;line-height:14.00px">6</div>
<div class="num" style="left:271.60px;top:189.00px;width:28.90px;line-height:14.00px">4</div>
<div class="num" style="left:302.90px;top:189.00px;width:28.90px;line-height:14.00px">6</div>
<div class="num" style="left:334.20px;top:189.00px;width:28.90px;line-height:14.00px">6</div>
<div class="num" style="left:365.50px;top:189.00px;width:28.90px;line-height:14.00px">7</div>
<div class="num" style="left:396.80px;top:189.00px;width:28.90px;line-height:14.00px">7</div>
<div class="num" style="left:428.10px;top:189.00px;width:28.90px;line-height:14.00px">7</div>
<div class="a" style="left:459px;top:188.00px;width:49px;height:14.00px;background:#ffffff"></div>
<svg class="a" style="left:460.3px;top:191.0px" width="9.8" height="8.4" viewBox="0 0 10 9"><path d="M9.5 4.5L5.2 0.6V2.8H0.6V6.2H5.2V8.4Z" fill="#eeb971" stroke="#b3803e" stroke-width="0.7" stroke-linejoin="round"/></svg>
<div class="num" style="left:459px;top:188.60px;width:34.50px;line-height:14.00px;font-size:6.8px;color:#000000">0,0%</div>
<div class="a" style="left:509px;top:188.00px;width:42px;height:14.00px;background:#d3eada"></div>
<svg class="a" style="left:510.3px;top:190.4px" width="9" height="10" viewBox="0 0 9 10"><path d="M4.5 0.5L8.4 4.8H6.1V9.4H2.9V4.8H0.6Z" fill="#6fa38d" stroke="#3f6f5b" stroke-width="0.7" stroke-linejoin="round"/></svg>
<div class="num" style="left:509px;top:188.60px;width:34.50px;line-height:14.00px;font-size:6.8px;color:#000000">5,0%</div>
<div class="cn" style="top:203.00px;height:13.00px;background:#92d050"><span style="display:inline-block;transform:scaleX(0.94);transform-origin:0 50%">France</span></div>
<div class="num" style="left:146.40px;top:204.00px;width:28.90px;line-height:13.00px">155</div>
<div class="num" style="left:177.70px;top:204.00px;width:28.90px;line-height:13.00px">138</div>
<div class="num" style="left:209.00px;top:204.00px;width:28.90px;line-height:13.00px">133</div>
<div class="num" style="left:240.30px;top:204.00px;width:28.90px;line-height:13.00px">134</div>
<div class="num" style="left:271.60px;top:204.00px;width:28.90px;line-height:13.00px">121</div>
<div class="num" style="left:302.90px;top:204.00px;width:28.90px;line-height:13.00px">133</div>
<div class="num" style="left:334.20px;top:204.00px;width:28.90px;line-height:13.00px">58</div>
<div class="num" style="left:365.50px;top:204.00px;width:28.90px;line-height:13.00px">147</div>
<div class="num" style="left:396.80px;top:204.00px;width:28.90px;line-height:13.00px">104</div>
<div class="num" style="left:428.10px;top:204.00px;width:28.90px;line-height:13.00px">119</div>
<div class="a" style="left:459px;top:203.00px;width:49px;height:13.00px;background:#4ea96b"></div>
<svg class="a" style="left:460.3px;top:205.4px" width="9" height="10" viewBox="0 0 9 10"><path d="M4.5 0.5L8.4 4.8H6.1V9.4H2.9V4.8H0.6Z" fill="#6fa38d" stroke="#3f6f5b" stroke-width="0.7" stroke-linejoin="round"/></svg>
<div class="num" style="left:459px;top:203.60px;width:34.50px;line-height:13.00px;font-size:6.8px;color:#eaf6ee">14,6%</div>
<div class="a" style="left:509px;top:203.00px;width:42px;height:13.00px;background:#4ea96b"></div>
<svg class="a" style="left:510.3px;top:205.4px" width="9" height="10" viewBox="0 0 9 10"><path d="M4.5 0.5L8.4 4.8H6.1V9.4H2.9V4.8H0.6Z" fill="#6fa38d" stroke="#3f6f5b" stroke-width="0.7" stroke-linejoin="round"/></svg>
<div class="num" style="left:509px;top:203.60px;width:34.50px;line-height:13.00px;font-size:6.8px;color:#eaf6ee">15,7%</div>
<div class="cn" style="top:217.00px;height:14.00px;background:#92d050"><span style="display:inline-block;transform:scaleX(0.94);transform-origin:0 50%">Germany</span></div>
<div class="num" style="left:146.40px;top:218.00px;width:28.90px;line-height:14.00px">43</div>
<div class="num" style="left:177.70px;top:218.00px;width:28.90px;line-height:14.00px">35</div>
<div class="num" style="left:209.00px;top:218.00px;width:28.90px;line-height:14.00px">23</div>
<div class="num" style="left:240.30px;top:218.00px;width:28.90px;line-height:14.00px">45</div>
<div class="num" style="left:271.60px;top:218.00px;width:28.90px;line-height:14.00px">42</div>
<div class="num" style="left:302.90px;top:218.00px;width:28.90px;line-height:14.00px">39</div>
<div class="num" style="left:334.20px;top:218.00px;width:28.90px;line-height:14.00px">37</div>
<div class="num" style="left:365.50px;top:218.00px;width:28.90px;line-height:14.00px">36</div>
<div class="num" style="left:396.80px;top:218.00px;width:28.90px;line-height:14.00px">38</div>
<div class="num" style="left:428.10px;top:218.00px;width:28.90px;line-height:14.00px">38</div>
<div class="a" style="left:459px;top:217.00px;width:49px;height:14.00px;background:#ffffff"></div>
<svg class="a" style="left:460.3px;top:220.0px" width="9.8" height="8.4" viewBox="0 0 10 9"><path d="M9.5 4.5L5.2 0.6V2.8H0.6V6.2H5.2V8.4Z" fill="#eeb971" stroke="#b3803e" stroke-width="0.7" stroke-linejoin="round"/></svg>
<div class="num" style="left:459px;top:217.60px;width:34.50px;line-height:14.00px;font-size:6.8px;color:#000000">0,0%</div>
<div class="a" style="left:509px;top:217.00px;width:42px;height:14.00px;background:#d3eada"></div>
<svg class="a" style="left:510.3px;top:219.4px" width="9" height="10" viewBox="0 0 9 10"><path d="M4.5 0.5L8.4 4.8H6.1V9.4H2.9V4.8H0.6Z" fill="#6fa38d" stroke="#3f6f5b" stroke-width="0.7" stroke-linejoin="round"/></svg>
<div class="num" style="left:509px;top:217.60px;width:34.50px;line-height:14.00px;font-size:6.8px;color:#000000">2,7%</div>
<div class="cn" style="top:232.00px;height:14.00px;background:#92d050"><span style="display:inline-block;transform:scaleX(0.94);transform-origin:0 50%">Greece</span></div>
<div class="num" style="left:146.40px;top:233.00px;width:28.90px;line-height:14.00px">60</div>
<div class="num" style="left:177.70px;top:233.00px;width:28.90px;line-height:14.00px">47</div>
<div class="num" style="left:209.00px;top:233.00px;width:28.90px;line-height:14.00px">59</div>
<div class="num" style="left:240.30px;top:233.00px;width:28.90px;line-height:14.00px">60</div>
<div class="num" style="left:271.60px;top:233.00px;width:28.90px;line-height:14.00px">58</div>
<div class="num" style="left:302.90px;top:233.00px;width:28.90px;line-height:14.00px">80</div>
<div class="num" style="left:334.20px;top:233.00px;width:28.90px;line-height:14.00px">67</div>
<div class="num" style="left:365.50px;top:233.00px;width:28.90px;line-height:14.00px">99</div>
<div class="num" style="left:396.80px;top:233.00px;width:28.90px;line-height:14.00px">61</div>
<div class="num" style="left:428.10px;top:233.00px;width:28.90px;line-height:14.00px">84</div>
<div class="a" style="left:459px;top:232.00px;width:49px;height:14.00px;background:#1e9348"></div>
<svg class="a" style="left:460.3px;top:234.4px" width="9" height="10" viewBox="0 0 9 10"><path d="M4.5 0.5L8.4 4.8H6.1V9.4H2.9V4.8H0.6Z" fill="#6fa38d" stroke="#3f6f5b" stroke-width="0.7" stroke-linejoin="round"/></svg>
<div class="num" style="left:459px;top:232.60px;width:34.50px;line-height:14.00px;font-size:6.8px;color:#ffffff">38,1%</div>
<div class="a" style="left:509px;top:232.00px;width:42px;height:14.00px;background:#72b98a"></div>
<svg class="a" style="left:510.3px;top:234.4px" width="9" height="10" viewBox="0 0 9 10"><path d="M4.5 0.5L8.4 4.8H6.1V9.4H2.9V4.8H0.6Z" fill="#6fa38d" stroke="#3f6f5b" stroke-width="0.7" stroke-linejoin="round"/></svg>
<div class="num" style="left:509px;top:232.60px;width:34.50px;line-height:14.00px;font-size:6.8px;color:#ffffff">11,7%</div>
<div class="cn" style="top:247.00px;height:13.00px;background:#92d050"><span style="display:inline-block;transform:scaleX(0.94);transform-origin:0 50%">Hungary</span></div>
<div class="num" style="left:146.40px;top:248.00px;width:28.90px;line-height:13.00px">33</div>
<div class="num" style="left:177.70px;top:248.00px;width:28.90px;line-height:13.00px">38</div>
<div class="num" style="left:209.00px;top:248.00px;width:28.90px;line-height:13.00px">35</div>
<div class="num" style="left:240.30px;top:248.00px;width:28.90px;line-height:13.00px">38</div>
<div class="num" style="left:271.60px;top:248.00px;width:28.90px;line-height:13.00px">32</div>
<div class="num" style="left:302.90px;top:248.00px;width:28.90px;line-height:13.00px">16</div>
<div class="num" style="left:334.20px;top:248.00px;width:28.90px;line-height:13.00px">16</div>
<div class="num" style="left:365.50px;top:248.00px;width:28.90px;line-height:13.00px">15</div>
<div class="num" style="left:396.80px;top:248.00px;width:28.90px;line-height:13.00px">20</div>
<div class="num" style="left:428.10px;top:248.00px;width:28.90px;line-height:13.00px">15</div>
<div class="a" style="left:459px;top:247.00px;width:49px;height:13.00px;background:#c20505"></div>
<svg class="a" style="left:460.3px;top:249.4px" width="9" height="10" viewBox="0 0 9 10"><path d="M4.5 9.5L8.4 5.2H6.1V0.6H2.9V5.2H0.6Z" fill="#e6713f" stroke="#a33b25" stroke-width="0.7" stroke-linejoin="round"/></svg>
<div class="num" style="left:459px;top:247.60px;width:34.50px;line-height:13.00px;font-size:6.8px;color:#ffffff">-25,0%</div>
<div class="a" style="left:509px;top:247.00px;width:42px;height:13.00px;background:#dc6466"></div>
<svg class="a" style="left:510.3px;top:249.4px" width="9" height="10" viewBox="0 0 9 10"><path d="M4.5 9.5L8.4 5.2H6.1V0.6H2.9V5.2H0.6Z" fill="#e6713f" stroke="#a33b25" stroke-width="0.7" stroke-linejoin="round"/></svg>
<div class="num" style="left:509px;top:247.60px;width:34.50px;line-height:13.00px;font-size:6.8px;color:#ffffff">-12,3%</div>
<div class="cn" style="top:261.00px;height:14.00px;background:#92d050"><span style="display:inline-block;transform:scaleX(0.94);transform-origin:0 50%">Italy</span></div>
<div class="num" style="left:146.40px;top:262.00px;width:28.90px;line-height:14.00px">764</div>
<div class="num" style="left:177.70px;top:262.00px;width:28.90px;line-height:14.00px">681</div>
<div class="num" style="left:209.00px;top:262.00px;width:28.90px;line-height:14.00px">738</div>
<div class="num" style="left:240.30px;top:262.00px;width:28.90px;line-height:14.00px">730</div>
<div class="num" style="left:271.60px;top:262.00px;width:28.90px;line-height:14.00px">363</div>
<div class="num" style="left:302.90px;top:262.00px;width:28.90px;line-height:14.00px">611</div>
<div class="num" style="left:334.20px;top:262.00px;width:28.90px;line-height:14.00px">202</div>
<div class="num" style="left:365.50px;top:262.00px;width:28.90px;line-height:14.00px">505</div>
<div class="num" style="left:396.80px;top:262.00px;width:28.90px;line-height:14.00px">184</div>
<div class="num" style="left:428.10px;top:262.00px;width:28.90px;line-height:14.00px">405</div>
<div class="a" style="left:459px;top:261.00px;width:49px;height:14.00px;background:#1e9348"></div>
<svg class="a" style="left:460.3px;top:263.4px" width="9" height="10" viewBox="0 0 9 10"><path d="M4.5 0.5L8.4 4.8H6.1V9.4H2.9V4.8H0.6Z" fill="#6fa38d" stroke="#3f6f5b" stroke-width="0.7" stroke-linejoin="round"/></svg>
<div class="num" style="left:459px;top:261.60px;width:34.50px;line-height:14.00px;font-size:6.8px;color:#ffffff">120,5%</div>
<div class="a" style="left:509px;top:261.00px;width:42px;height:14.00px;background:#1e9348"></div>
<svg class="a" style="left:510.3px;top:263.4px" width="9" height="10" viewBox="0 0 9 10"><path d="M4.5 0.5L8.4 4.8H6.1V9.4H2.9V4.8H0.6Z" fill="#6fa38d" stroke="#3f6f5b" stroke-width="0.7" stroke-linejoin="round"/></svg>
<div class="num" style="left:509px;top:261.60px;width:34.50px;line-height:14.00px;font-size:6.8px;color:#ffffff">36,5%</div>
<div class="cn" style="top:276.00px;height:14.00px;background:#92d050"><span style="display:inline-block;transform:scaleX(0.94);transform-origin:0 50%">Latvia</span></div>
<div class="num" style="left:146.40px;top:277.00px;width:28.90px;line-height:14.00px">0</div>
<div class="num" style="left:177.70px;top:277.00px;width:28.90px;line-height:14.00px">0</div>
<div class="num" style="left:209.00px;top:277.00px;width:28.90px;line-height:14.00px">0</div>
<div class="num" style="left:240.30px;top:277.00px;width:28.90px;line-height:14.00px">0</div>
<div class="num" style="left:271.60px;top:277.00px;width:28.90px;line-height:14.00px">1</div>
<div class="num" style="left:302.90px;top:277.00px;width:28.90px;line-height:14.00px">1</div>
<div class="num" style="left:334.20px;top:277.00px;width:28.90px;line-height:14.00px">1</div>
<div class="num" style="left:365.50px;top:277.00px;width:28.90px;line-height:14.00px">1</div>
<div class="num" style="left:396.80px;top:277.00px;width:28.90px;line-height:14.00px">0</div>
<div class="num" style="left:428.10px;top:277.00px;width:28.90px;line-height:14.00px">0</div>
<div class="a" style="left:459px;top:276.00px;width:49px;height:14.00px;background:#c20505"></div>
<svg class="a" style="left:460.3px;top:278.4px" width="9" height="10" viewBox="0 0 9 10"><path d="M4.5 9.5L8.4 5.2H6.1V0.6H2.9V5.2H0.6Z" fill="#e6713f" stroke="#a33b25" stroke-width="0.7" stroke-linejoin="round"/></svg>
<div class="num" style="left:459px;top:276.60px;width:34.50px;line-height:14.00px;font-size:6.8px;color:#ffffff">-21,5%</div>
<div class="a" style="left:509px;top:276.00px;width:42px;height:14.00px;background:#c20505"></div>
<svg class="a" style="left:510.3px;top:278.4px" width="9" height="10" viewBox="0 0 9 10"><path d="M4.5 9.5L8.4 5.2H6.1V0.6H2.9V5.2H0.6Z" fill="#e6713f" stroke="#a33b25" stroke-width="0.7" stroke-linejoin="round"/></svg>
<div class="num" style="left:509px;top:276.60px;width:34.50px;line-height:14.00px;font-size:6.8px;color:#ffffff">-65,6%</div>
<div class="cn" style="top:291.00px;height:14.00px;background:#92d050"><span style="display:inline-block;transform:scaleX(0.94);transform-origin:0 50%">Netherlands</span></div>
<div class="num" style="left:146.40px;top:292.00px;width:28.90px;line-height:14.00px">349</div>
<div class="num" style="left:177.70px;top:292.00px;width:28.90px;line-height:14.00px">374</div>
<div class="num" style="left:209.00px;top:292.00px;width:28.90px;line-height:14.00px">330</div>
<div class="num" style="left:240.30px;top:292.00px;width:28.90px;line-height:14.00px">402</div>
<div class="num" style="left:271.60px;top:292.00px;width:28.90px;line-height:14.00px">373</div>
<div class="num" style="left:302.90px;top:292.00px;width:28.90px;line-height:14.00px">400</div>
<div class="num" style="left:334.20px;top:292.00px;width:28.90px;line-height:14.00px">340</div>
<div class="num" style="left:365.50px;top:292.00px;width:28.90px;line-height:14.00px">352</div>
<div class="num" style="left:396.80px;top:292.00px;width:28.90px;line-height:14.00px">358</div>
<div class="num" style="left:428.10px;top:292.00px;width:28.90px;line-height:14.00px">327</div>
<div class="a" style="left:459px;top:291.00px;width:49px;height:14.00px;background:#e9a0a0"></div>
<svg class="a" style="left:460.3px;top:293.4px" width="9" height="10" viewBox="0 0 9 10"><path d="M4.5 9.5L8.4 5.2H6.1V0.6H2.9V5.2H0.6Z" fill="#e6713f" stroke="#a33b25" stroke-width="0.7" stroke-linejoin="round"/></svg>
<div class="num" style="left:459px;top:291.60px;width:34.50px;line-height:14.00px;font-size:6.8px;color:#ffffff">-8,7%</div>
<div class="a" style="left:509px;top:291.00px;width:42px;height:14.00px;background:#efb4b4"></div>
<svg class="a" style="left:510.3px;top:293.4px" width="9" height="10" viewBox="0 0 9 10"><path d="M4.5 9.5L8.4 5.2H6.1V0.6H2.9V5.2H0.6Z" fill="#e6713f" stroke="#a33b25" stroke-width="0.7" stroke-linejoin="round"/></svg>
<div class="num" style="left:509px;top:291.60px;width:34.50px;line-height:14.00px;font-size:6.8px;color:#000000">-6,6%</div>
<div class="cn" style="top:306.00px;height:13.00px;background:#92d050"><span style="display:inline-block;transform:scaleX(0.94);transform-origin:0 50%">Poland</span></div>
<div class="num" style="left:146.40px;top:307.00px;width:28.90px;line-height:13.00px">80</div>
<div class="num" style="left:177.70px;top:307.00px;width:28.90px;line-height:13.00px">55</div>
<div class="num" style="left:209.00px;top:307.00px;width:28.90px;line-height:13.00px">40</div>
<div class="num" style="left:240.30px;top:307.00px;width:28.90px;line-height:13.00px">70</div>
<div class="num" style="left:271.60px;top:307.00px;width:28.90px;line-height:13.00px">70</div>
<div class="num" style="left:302.90px;top:307.00px;width:28.90px;line-height:13.00px">65</div>
<div class="num" style="left:334.20px;top:307.00px;width:28.90px;line-height:13.00px">70</div>
<div class="num" style="left:365.50px;top:307.00px;width:28.90px;line-height:13.00px">95</div>
<div class="num" style="left:396.80px;top:307.00px;width:28.90px;line-height:13.00px">100</div>
<div class="num" style="left:428.10px;top:307.00px;width:28.90px;line-height:13.00px">100</div>
<div class="a" style="left:459px;top:306.00px;width:49px;height:13.00px;background:#ffffff"></div>
<svg class="a" style="left:460.3px;top:309.0px" width="9.8" height="8.4" viewBox="0 0 10 9"><path d="M9.5 4.5L5.2 0.6V2.8H0.6V6.2H5.2V8.4Z" fill="#eeb971" stroke="#b3803e" stroke-width="0.7" stroke-linejoin="round"/></svg>
<div class="num" style="left:459px;top:306.60px;width:34.50px;line-height:13.00px;font-size:6.8px;color:#000000">0,0%</div>
<div class="a" style="left:509px;top:306.00px;width:42px;height:13.00px;background:#72b98a"></div>
<svg class="a" style="left:510.3px;top:308.4px" width="9" height="10" viewBox="0 0 9 10"><path d="M4.5 0.5L8.4 4.8H6.1V9.4H2.9V4.8H0.6Z" fill="#6fa38d" stroke="#3f6f5b" stroke-width="0.7" stroke-linejoin="round"/></svg>
<div class="num" style="left:509px;top:306.60px;width:34.50px;line-height:13.00px;font-size:6.8px;color:#ffffff">13,2%</div>
<div class="cn" style="top:320.00px;height:14.00px;background:#92d050"><span style="display:inline-block;transform:scaleX(0.94);transform-origin:0 50%">Portugal</span></div>
<div class="num" style="left:146.40px;top:321.00px;width:28.90px;line-height:14.00px">134</div>
<div class="num" style="left:177.70px;top:321.00px;width:28.90px;line-height:14.00px">113</div>
<div class="num" style="left:209.00px;top:321.00px;width:28.90px;line-height:14.00px">186</div>
<div class="num" style="left:240.30px;top:321.00px;width:28.90px;line-height:14.00px">142</div>
<div class="num" style="left:271.60px;top:321.00px;width:28.90px;line-height:14.00px">202</div>
<div class="num" style="left:302.90px;top:321.00px;width:28.90px;line-height:14.00px">139</div>
<div class="num" style="left:334.20px;top:321.00px;width:28.90px;line-height:14.00px">225</div>
<div class="num" style="left:365.50px;top:321.00px;width:28.90px;line-height:14.00px">132</div>
<div class="num" style="left:396.80px;top:321.00px;width:28.90px;line-height:14.00px">112</div>
<div class="num" style="left:428.10px;top:321.00px;width:28.90px;line-height:14.00px">124</div>
<div class="a" style="left:459px;top:320.00px;width:49px;height:14.00px;background:#93cba2"></div>
<svg class="a" style="left:460.3px;top:322.4px" width="9" height="10" viewBox="0 0 9 10"><path d="M4.5 0.5L8.4 4.8H6.1V9.4H2.9V4.8H0.6Z" fill="#6fa38d" stroke="#3f6f5b" stroke-width="0.7" stroke-linejoin="round"/></svg>
<div class="num" style="left:459px;top:320.60px;width:34.50px;line-height:14.00px;font-size:6.8px;color:#ffffff">10,1%</div>
<div class="a" style="left:509px;top:320.00px;width:42px;height:14.00px;background:#c20505"></div>
<svg class="a" style="left:510.3px;top:322.4px" width="9" height="10" viewBox="0 0 9 10"><path d="M4.5 9.5L8.4 5.2H6.1V0.6H2.9V5.2H0.6Z" fill="#e6713f" stroke="#a33b25" stroke-width="0.7" stroke-linejoin="round"/></svg>
<div class="num" style="left:509px;top:320.60px;width:34.50px;line-height:14.00px;font-size:6.8px;color:#ffffff">-21,0%</div>
<div class="cn" style="top:335.00px;height:14.00px;background:#92d050"><span style="display:inline-block;transform:scaleX(0.94);transform-origin:0 50%">Romania</span></div>
<div class="num" style="left:146.40px;top:336.00px;width:28.90px;line-height:14.00px">43</div>
<div class="num" style="left:177.70px;top:336.00px;width:28.90px;line-height:14.00px">50</div>
<div class="num" style="left:209.00px;top:336.00px;width:28.90px;line-height:14.00px">46</div>
<div class="num" style="left:240.30px;top:336.00px;width:28.90px;line-height:14.00px">57</div>
<div class="num" style="left:271.60px;top:336.00px;width:28.90px;line-height:14.00px">48</div>
<div class="num" style="left:302.90px;top:336.00px;width:28.90px;line-height:14.00px">47</div>
<div class="num" style="left:334.20px;top:336.00px;width:28.90px;line-height:14.00px">50</div>
<div class="num" style="left:365.50px;top:336.00px;width:28.90px;line-height:14.00px">42</div>
<div class="num" style="left:396.80px;top:336.00px;width:28.90px;line-height:14.00px">42</div>
<div class="num" style="left:428.10px;top:336.00px;width:28.90px;line-height:14.00px">36</div>
<div class="a" style="left:459px;top:335.00px;width:49px;height:14.00px;background:#d4474b"></div>
<svg class="a" style="left:460.3px;top:337.4px" width="9" height="10" viewBox="0 0 9 10"><path d="M4.5 9.5L8.4 5.2H6.1V0.6H2.9V5.2H0.6Z" fill="#e6713f" stroke="#a33b25" stroke-width="0.7" stroke-linejoin="round"/></svg>
<div class="num" style="left:459px;top:335.60px;width:34.50px;line-height:14.00px;font-size:6.8px;color:#ffffff">-15,0%</div>
<div class="a" style="left:509px;top:335.00px;width:42px;height:14.00px;background:#c20505"></div>
<svg class="a" style="left:510.3px;top:337.4px" width="9" height="10" viewBox="0 0 9 10"><path d="M4.5 9.5L8.4 5.2H6.1V0.6H2.9V5.2H0.6Z" fill="#e6713f" stroke="#a33b25" stroke-width="0.7" stroke-linejoin="round"/></svg>
<div class="num" style="left:509px;top:335.60px;width:34.50px;line-height:14.00px;font-size:6.8px;color:#ffffff">-19,7%</div>
<div class="cn" style="top:350.00px;height:13.00px;background:#92d050"><span style="display:inline-block;transform:scaleX(0.94);transform-origin:0 50%">Slovakia</span></div>
<div class="num" style="left:146.40px;top:351.00px;width:28.90px;line-height:13.00px">1</div>
<div class="num" style="left:177.70px;top:351.00px;width:28.90px;line-height:13.00px">0</div>
<div class="num" style="left:209.00px;top:351.00px;width:28.90px;line-height:13.00px">1</div>
<div class="num" style="left:240.30px;top:351.00px;width:28.90px;line-height:13.00px">1</div>
<div class="num" style="left:271.60px;top:351.00px;width:28.90px;line-height:13.00px">1</div>
<div class="num" style="left:302.90px;top:351.00px;width:28.90px;line-height:13.00px">1</div>
<div class="num" style="left:334.20px;top:351.00px;width:28.90px;line-height:13.00px">1</div>
<div class="num" style="left:365.50px;top:351.00px;width:28.90px;line-height:13.00px">1</div>
<div class="num" style="left:396.80px;top:351.00px;width:28.90px;line-height:13.00px">1</div>
<div class="num" style="left:428.10px;top:351.00px;width:28.90px;line-height:13.00px">1</div>
<div class="a" style="left:459px;top:350.00px;width:49px;height:13.00px;background:#1e9348"></div>
<svg class="a" style="left:460.3px;top:352.4px" width="9" height="10" viewBox="0 0 9 10"><path d="M4.5 0.5L8.4 4.8H6.1V9.4H2.9V4.8H0.6Z" fill="#6fa38d" stroke="#3f6f5b" stroke-width="0.7" stroke-linejoin="round"/></svg>
<div class="num" style="left:459px;top:350.60px;width:34.50px;line-height:13.00px;font-size:6.8px;color:#ffffff">37,1%</div>
<div class="a" style="left:509px;top:350.00px;width:42px;height:13.00px;background:#1e9348"></div>
<svg class="a" style="left:510.3px;top:352.4px" width="9" height="10" viewBox="0 0 9 10"><path d="M4.5 0.5L8.4 4.8H6.1V9.4H2.9V4.8H0.6Z" fill="#6fa38d" stroke="#3f6f5b" stroke-width="0.7" stroke-linejoin="round"/></svg>
<div class="num" style="left:509px;top:350.60px;width:34.50px;line-height:13.00px;font-size:6.8px;color:#ffffff">28,8%</div>
<div class="cn" style="top:364.00px;height:14.00px;background:#92d050"><span style="display:inline-block;transform:scaleX(0.94);transform-origin:0 50%">Slovenia</span></div>
<div class="num" style="left:146.40px;top:365.00px;width:28.90px;line-height:14.00px">4</div>
<div class="num" style="left:177.70px;top:365.00px;width:28.90px;line-height:14.00px">1</div>
<div class="num" style="left:209.00px;top:365.00px;width:28.90px;line-height:14.00px">0</div>
<div class="num" style="left:240.30px;top:365.00px;width:28.90px;line-height:14.00px">5</div>
<div class="num" style="left:271.60px;top:365.00px;width:28.90px;line-height:14.00px">1</div>
<div class="num" style="left:302.90px;top:365.00px;width:28.90px;line-height:14.00px">1</div>
<div class="num" style="left:334.20px;top:365.00px;width:28.90px;line-height:14.00px">1</div>
<div class="num" style="left:365.50px;top:365.00px;width:28.90px;line-height:14.00px">3</div>
<div class="num" style="left:396.80px;top:365.00px;width:28.90px;line-height:14.00px">1</div>
<div class="num" style="left:428.10px;top:365.00px;width:28.90px;line-height:14.00px">3</div>
<div class="a" style="left:459px;top:364.00px;width:49px;height:14.00px;background:#1e9348"></div>
<svg class="a" style="left:460.3px;top:366.4px" width="9" height="10" viewBox="0 0 9 10"><path d="M4.5 0.5L8.4 4.8H6.1V9.4H2.9V4.8H0.6Z" fill="#6fa38d" stroke="#3f6f5b" stroke-width="0.7" stroke-linejoin="round"/></svg>
<div class="num" style="left:459px;top:364.60px;width:34.50px;line-height:14.00px;font-size:6.8px;color:#ffffff">363,6%</div>
<div class="a" style="left:509px;top:364.00px;width:42px;height:14.00px;background:#1e9348"></div>
<svg class="a" style="left:510.3px;top:366.4px" width="9" height="10" viewBox="0 0 9 10"><path d="M4.5 0.5L8.4 4.8H6.1V9.4H2.9V4.8H0.6Z" fill="#6fa38d" stroke="#3f6f5b" stroke-width="0.7" stroke-linejoin="round"/></svg>
<div class="num" style="left:509px;top:364.60px;width:34.50px;line-height:14.00px;font-size:6.8px;color:#ffffff">73,9%</div>
<div class="cn" style="top:379.00px;height:14.00px;background:#92d050"><span style="display:inline-block;transform:scaleX(0.94);transform-origin:0 50%">Spain</span></div>
<div class="num" style="left:146.40px;top:380.00px;width:28.90px;line-height:14.00px">344</div>
<div class="num" style="left:177.70px;top:380.00px;width:28.90px;line-height:14.00px">311</div>
<div class="num" style="left:209.00px;top:380.00px;width:28.90px;line-height:14.00px">331</div>
<div class="num" style="left:240.30px;top:380.00px;width:28.90px;line-height:14.00px">298</div>
<div class="num" style="left:271.60px;top:380.00px;width:28.90px;line-height:14.00px">313</div>
<div class="num" style="left:302.90px;top:380.00px;width:28.90px;line-height:14.00px">307</div>
<div class="num" style="left:334.20px;top:380.00px;width:28.90px;line-height:14.00px">309</div>
<div class="num" style="left:365.50px;top:380.00px;width:28.90px;line-height:14.00px">236</div>
<div class="num" style="left:396.80px;top:380.00px;width:28.90px;line-height:14.00px">286</div>
<div class="num" style="left:428.10px;top:380.00px;width:28.90px;line-height:14.00px">244</div>
<div class="a" style="left:459px;top:379.00px;width:49px;height:14.00px;background:#d4474b"></div>
<svg class="a" style="left:460.3px;top:381.4px" width="9" height="10" viewBox="0 0 9 10"><path d="M4.5 9.5L8.4 5.2H6.1V0.6H2.9V5.2H0.6Z" fill="#e6713f" stroke="#a33b25" stroke-width="0.7" stroke-linejoin="round"/></svg>
<div class="num" style="left:459px;top:379.60px;width:34.50px;line-height:14.00px;font-size:6.8px;color:#ffffff">-14,8%</div>
<div class="a" style="left:509px;top:379.00px;width:42px;height:14.00px;background:#dc6466"></div>
<svg class="a" style="left:510.3px;top:381.4px" width="9" height="10" viewBox="0 0 9 10"><path d="M4.5 9.5L8.4 5.2H6.1V0.6H2.9V5.2H0.6Z" fill="#e6713f" stroke="#a33b25" stroke-width="0.7" stroke-linejoin="round"/></svg>
<div class="num" style="left:509px;top:379.60px;width:34.50px;line-height:14.00px;font-size:6.8px;color:#ffffff">-12,0%</div>
<div class="cn" style="top:394.00px;height:13.00px;background:#92d050"><span style="display:inline-block;transform:scaleX(0.94);transform-origin:0 50%">Sweden</span></div>
<div class="num" style="left:146.40px;top:395.00px;width:28.90px;line-height:13.00px">1</div>
<div class="num" style="left:177.70px;top:395.00px;width:28.90px;line-height:13.00px">1</div>
<div class="num" style="left:209.00px;top:395.00px;width:28.90px;line-height:13.00px">1</div>
<div class="num" style="left:240.30px;top:395.00px;width:28.90px;line-height:13.00px">2</div>
<div class="num" style="left:271.60px;top:395.00px;width:28.90px;line-height:13.00px">1</div>
<div class="num" style="left:302.90px;top:395.00px;width:28.90px;line-height:13.00px">2</div>
<div class="num" style="left:334.20px;top:395.00px;width:28.90px;line-height:13.00px">2</div>
<div class="num" style="left:365.50px;top:395.00px;width:28.90px;line-height:13.00px">2</div>
<div class="num" style="left:396.80px;top:395.00px;width:28.90px;line-height:13.00px">2</div>
<div class="num" style="left:428.10px;top:395.00px;width:28.90px;line-height:13.00px">2</div>
<div class="a" style="left:459px;top:394.00px;width:49px;height:13.00px;background:#ffffff"></div>
<svg class="a" style="left:460.3px;top:397.0px" width="9.8" height="8.4" viewBox="0 0 10 9"><path d="M9.5 4.5L5.2 0.6V2.8H0.6V6.2H5.2V8.4Z" fill="#eeb971" stroke="#b3803e" stroke-width="0.7" stroke-linejoin="round"/></svg>
<div class="num" style="left:459px;top:394.60px;width:34.50px;line-height:13.00px;font-size:6.8px;color:#000000">0,0%</div>
<div class="a" style="left:509px;top:394.00px;width:42px;height:13.00px;background:#ffffff"></div>
<svg class="a" style="left:510.3px;top:397.0px" width="9.8" height="8.4" viewBox="0 0 10 9"><path d="M9.5 4.5L5.2 0.6V2.8H0.6V6.2H5.2V8.4Z" fill="#eeb971" stroke="#b3803e" stroke-width="0.7" stroke-linejoin="round"/></svg>
<div class="num" style="left:509px;top:394.60px;width:34.50px;line-height:13.00px;font-size:6.8px;color:#000000">0,0%</div>
<div class="cn" style="top:408.00px;height:14.00px;background:#00b050"><span style="display:inline-block;transform:scaleX(0.94);transform-origin:0 50%">Total</span></div>
<div class="num" style="left:146.40px;top:409.00px;width:28.90px;line-height:14.00px">2.399</div>
<div class="num" style="left:177.70px;top:409.00px;width:28.90px;line-height:14.00px">2.180</div>
<div class="num" style="left:209.00px;top:409.00px;width:28.90px;line-height:14.00px">2.248</div>
<div class="num" style="left:240.30px;top:409.00px;width:28.90px;line-height:14.00px">2.372</div>
<div class="num" style="left:271.60px;top:409.00px;width:28.90px;line-height:14.00px">1.971</div>
<div class="num" style="left:302.90px;top:409.00px;width:28.90px;line-height:14.00px">2.246</div>
<div class="num" style="left:334.20px;top:409.00px;width:28.90px;line-height:14.00px">1.750</div>
<div class="num" style="left:365.50px;top:409.00px;width:28.90px;line-height:14.00px">2.028</div>
<div class="num" style="left:396.80px;top:409.00px;width:28.90px;line-height:14.00px">1.707</div>
<div class="num" style="left:428.10px;top:409.00px;width:28.90px;line-height:14.00px">1.790</div>
<div class="a" style="left:459px;top:408.00px;width:49px;height:14.00px;background:#d3eada"></div>
<svg class="a" style="left:460.3px;top:410.4px" width="9" height="10" viewBox="0 0 9 10"><path d="M4.5 0.5L8.4 4.8H6.1V9.4H2.9V4.8H0.6Z" fill="#6fa38d" stroke="#3f6f5b" stroke-width="0.7" stroke-linejoin="round"/></svg>
<div class="num" style="left:459px;top:408.60px;width:34.50px;line-height:14.00px;font-size:6.8px;color:#000000">4,9%</div>
<div class="a" style="left:509px;top:408.00px;width:42px;height:14.00px;background:#fae2e2"></div>
<svg class="a" style="left:510.3px;top:410.4px" width="9" height="10" viewBox="0 0 9 10"><path d="M4.5 9.5L8.4 5.2H6.1V0.6H2.9V5.2H0.6Z" fill="#e6713f" stroke="#a33b25" stroke-width="0.7" stroke-linejoin="round"/></svg>
<div class="num" style="left:509px;top:408.60px;width:34.50px;line-height:14.00px;font-size:6.8px;color:#000000">-2,1%</div>
<div class="c" style="left:50px;top:423px;width:501px;height:13.6px;background:#e2434f;color:#fff;font-size:8.1px;padding-left:6.5px;padding-top:0.6px">Total production 1998-2024 (million t)</div>
<svg class="a" style="left:0;top:0" width="600" height="710" viewBox="0 0 600 710">
<line x1="80" y1="445" x2="80" y2="539.5" stroke="#e6e6e6" stroke-width="0.8"/>
<line x1="80" y1="539.5" x2="542" y2="539.5" stroke="#e6e6e6" stroke-width="0.8"/>
<polyline points="88.00,472.79 105.10,483.10 122.19,463.63 139.29,481.95 156.38,466.49 173.48,472.79 190.58,466.49 207.67,467.07 224.77,460.20 241.87,465.35 258.96,491.68 276.06,462.49 293.15,484.24 310.25,460.20 327.35,508.86 344.44,487.68 361.54,483.67 378.63,481.95 395.73,494.55 412.83,490.54 429.92,483.67 447.02,506.57 464.12,490.54 481.21,519.16 498.31,503.13 515.40,521.45 532.50,516.87" fill="none" stroke="#14a83e" stroke-width="2.2" stroke-linejoin="round"/>
<circle cx="88.00" cy="472.79" r="2.1" fill="#92d050"/>
<circle cx="105.10" cy="483.10" r="2.1" fill="#92d050"/>
<circle cx="122.19" cy="463.63" r="2.1" fill="#92d050"/>
<circle cx="139.29" cy="481.95" r="2.1" fill="#92d050"/>
<circle cx="156.38" cy="466.49" r="2.1" fill="#92d050"/>
<circle cx="173.48" cy="472.79" r="2.1" fill="#92d050"/>
<circle cx="190.58" cy="466.49" r="2.1" fill="#92d050"/>
<circle cx="207.67" cy="467.07" r="2.1" fill="#92d050"/>
<circle cx="224.77" cy="460.20" r="2.1" fill="#92d050"/>
<circle cx="241.87" cy="465.35" r="2.1" fill="#92d050"/>
<circle cx="258.96" cy="491.68" r="2.1" fill="#92d050"/>
<circle cx="276.06" cy="462.49" r="2.1" fill="#92d050"/>
<circle cx="293.15" cy="484.24" r="2.1" fill="#92d050"/>
<circle cx="310.25" cy="460.20" r="2.1" fill="#92d050"/>
<circle cx="327.35" cy="508.86" r="2.1" fill="#92d050"/>
<circle cx="344.44" cy="487.68" r="2.1" fill="#92d050"/>
<circle cx="361.54" cy="483.67" r="2.1" fill="#92d050"/>
<circle cx="378.63" cy="481.95" r="2.1" fill="#92d050"/>
<circle cx="395.73" cy="494.55" r="2.1" fill="#92d050"/>
<circle cx="412.83" cy="490.54" r="2.1" fill="#92d050"/>
<circle cx="429.92" cy="483.67" r="2.1" fill="#92d050"/>
<circle cx="447.02" cy="506.57" r="2.1" fill="#92d050"/>
<circle cx="464.12" cy="490.54" r="2.1" fill="#92d050"/>
<circle cx="481.21" cy="519.16" r="2.1" fill="#92d050"/>
<circle cx="498.31" cy="503.13" r="2.1" fill="#92d050"/>
<circle cx="515.40" cy="521.45" r="2.1" fill="#92d050"/>
<circle cx="532.50" cy="516.87" r="2.1" fill="#e8404f"/>
</svg>
<div class="a" style="left:57px;top:444.30px;width:18.3px;text-align:right;font-size:4.6px;line-height:8px;color:#2b2b3a">3,00</div>
<div class="a" style="left:57px;top:455.75px;width:18.3px;text-align:right;font-size:4.6px;line-height:8px;color:#2b2b3a">2,80</div>
<div class="a" style="left:57px;top:467.20px;width:18.3px;text-align:right;font-size:4.6px;line-height:8px;color:#2b2b3a">2,60</div>
<div class="a" style="left:57px;top:478.65px;width:18.3px;text-align:right;font-size:4.6px;line-height:8px;color:#2b2b3a">2,40</div>
<div class="a" style="left:57px;top:490.10px;width:18.3px;text-align:right;font-size:4.6px;line-height:8px;color:#2b2b3a">2,20</div>
<div class="a" style="left:57px;top:501.55px;width:18.3px;text-align:right;font-size:4.6px;line-height:8px;color:#2b2b3a">2,00</div>
<div class="a" style="left:57px;top:513.00px;width:18.3px;text-align:right;font-size:4.6px;line-height:8px;color:#2b2b3a">1,80</div>
<div class="a" style="left:57px;top:524.45px;width:18.3px;text-align:right;font-size:4.6px;line-height:8px;color:#2b2b3a">1,60</div>
<div class="a" style="left:57px;top:535.90px;width:18.3px;text-align:right;font-size:4.6px;line-height:8px;color:#2b2b3a">1,40</div>
<div class="a" style="left:78.00px;top:543px;width:20px;text-align:center;font-size:4.4px;line-height:8px;color:#2b2b3a">1998</div>
<div class="a" style="left:95.10px;top:543px;width:20px;text-align:center;font-size:4.4px;line-height:8px;color:#2b2b3a">1999</div>
<div class="a" style="left:112.19px;top:543px;width:20px;text-align:center;font-size:4.4px;line-height:8px;color:#2b2b3a">2000</div>
<div class="a" style="left:129.29px;top:543px;width:20px;text-align:center;font-size:4.4px;line-height:8px;color:#2b2b3a">2001</div>
<div class="a" style="left:146.38px;top:543px;width:20px;text-align:center;font-size:4.4px;line-height:8px;color:#2b2b3a">2002</div>
<div class="a" style="left:163.48px;top:543px;width:20px;text-align:center;font-size:4.4px;line-height:8px;color:#2b2b3a">2003</div>
<div class="a" style="left:180.58px;top:543px;width:20px;text-align:center;font-size:4.4px;line-height:8px;color:#2b2b3a">2004</div>
<div class="a" style="left:197.67px;top:543px;width:20px;text-align:center;font-size:4.4px;line-height:8px;color:#2b2b3a">2005</div>
<div class="a" style="left:214.77px;top:543px;width:20px;text-align:center;font-size:4.4px;line-height:8px;color:#2b2b3a">2006</div>
<div class="a" style="left:231.87px;top:543px;width:20px;text-align:center;font-size:4.4px;line-height:8px;color:#2b2b3a">2007</div>
<div class="a" style="left:248.96px;top:543px;width:20px;text-align:center;font-size:4.4px;line-height:8px;color:#2b2b3a">2008</div>
<div class="a" style="left:266.06px;top:543px;width:20px;text-align:center;font-size:4.4px;line-height:8px;color:#2b2b3a">2009</div>
<div class="a" style="left:283.15px;top:543px;width:20px;text-align:center;font-size:4.4px;line-height:8px;color:#2b2b3a">2010</div>
<div class="a" style="left:300.25px;top:543px;width:20px;text-align:center;font-size:4.4px;line-height:8px;color:#2b2b3a">2011</div>
<div class="a" style="left:317.35px;top:543px;width:20px;text-align:center;font-size:4.4px;line-height:8px;color:#2b2b3a">2012</div>
<div class="a" style="left:334.44px;top:543px;width:20px;text-align:center;font-size:4.4px;line-height:8px;color:#2b2b3a">2013</div>
<div class="a" style="left:351.54px;top:543px;width:20px;text-align:center;font-size:4.4px;line-height:8px;color:#2b2b3a">2014</div>
<div class="a" style="left:368.63px;top:543px;width:20px;text-align:center;font-size:4.4px;line-height:8px;color:#2b2b3a">2015</div>
<div class="a" style="left:385.73px;top:543px;width:20px;text-align:center;font-size:4.4px;line-height:8px;color:#2b2b3a">2016</div>
<div class="a" style="left:402.83px;top:543px;width:20px;text-align:center;font-size:4.4px;line-height:8px;color:#2b2b3a">2017</div>
<div class="a" style="left:419.92px;top:543px;width:20px;text-align:center;font-size:4.4px;line-height:8px;color:#2b2b3a">2018</div>
<div class="a" style="left:437.02px;top:543px;width:20px;text-align:center;font-size:4.4px;line-height:8px;color:#2b2b3a">2019</div>
<div class="a" style="left:454.12px;top:543px;width:20px;text-align:center;font-size:4.4px;line-height:8px;color:#2b2b3a">2020</div>
<div class="a" style="left:471.21px;top:543px;width:20px;text-align:center;font-size:4.4px;line-height:8px;color:#2b2b3a">2021</div>
<div class="a" style="left:488.31px;top:543px;width:20px;text-align:center;font-size:4.4px;line-height:8px;color:#2b2b3a">2022</div>
<div class="a" style="left:505.40px;top:543px;width:20px;text-align:center;font-size:4.4px;line-height:8px;color:#2b2b3a">2023</div>
<div class="a" style="left:522.50px;top:543px;width:20px;text-align:center;font-size:4.4px;line-height:8px;color:#2b2b3a">2024</div>
<div class="a" style="left:78.00px;top:461.39px;width:20px;text-align:center;font-size:4.6px;line-height:8px;color:#93c83a">2,56</div>
<div class="a" style="left:95.10px;top:488.60px;width:20px;text-align:center;font-size:4.6px;line-height:8px;color:#93c83a">2,38</div>
<div class="a" style="left:112.19px;top:452.23px;width:20px;text-align:center;font-size:4.6px;line-height:8px;color:#93c83a">2,72</div>
<div class="a" style="left:129.29px;top:487.45px;width:20px;text-align:center;font-size:4.6px;line-height:8px;color:#93c83a">2,40</div>
<div class="a" style="left:146.38px;top:455.09px;width:20px;text-align:center;font-size:4.6px;line-height:8px;color:#93c83a">2,67</div>
<div class="a" style="left:163.48px;top:478.29px;width:20px;text-align:center;font-size:4.6px;line-height:8px;color:#93c83a">2,56</div>
<div class="a" style="left:180.58px;top:455.09px;width:20px;text-align:center;font-size:4.6px;line-height:8px;color:#93c83a">2,67</div>
<div class="a" style="left:197.67px;top:472.57px;width:20px;text-align:center;font-size:4.6px;line-height:8px;color:#93c83a">2,66</div>
<div class="a" style="left:214.77px;top:448.80px;width:20px;text-align:center;font-size:4.6px;line-height:8px;color:#93c83a">2,78</div>
<div class="a" style="left:231.87px;top:470.85px;width:20px;text-align:center;font-size:4.6px;line-height:8px;color:#93c83a">2,69</div>
<div class="a" style="left:248.96px;top:497.18px;width:20px;text-align:center;font-size:4.6px;line-height:8px;color:#93c83a">2,23</div>
<div class="a" style="left:266.06px;top:451.09px;width:20px;text-align:center;font-size:4.6px;line-height:8px;color:#93c83a">2,74</div>
<div class="a" style="left:283.15px;top:489.74px;width:20px;text-align:center;font-size:4.6px;line-height:8px;color:#93c83a">2,36</div>
<div class="a" style="left:300.25px;top:448.80px;width:20px;text-align:center;font-size:4.6px;line-height:8px;color:#93c83a">2,78</div>
<div class="a" style="left:317.35px;top:514.36px;width:20px;text-align:center;font-size:4.6px;line-height:8px;color:#93c83a">1,93</div>
<div class="a" style="left:334.44px;top:476.28px;width:20px;text-align:center;font-size:4.6px;line-height:8px;color:#93c83a">2,30</div>
<div class="a" style="left:351.54px;top:472.27px;width:20px;text-align:center;font-size:4.6px;line-height:8px;color:#93c83a">2,37</div>
<div class="a" style="left:368.63px;top:487.45px;width:20px;text-align:center;font-size:4.6px;line-height:8px;color:#93c83a">2,40</div>
<div class="a" style="left:385.73px;top:500.05px;width:20px;text-align:center;font-size:4.6px;line-height:8px;color:#93c83a">2,18</div>
<div class="a" style="left:402.83px;top:479.14px;width:20px;text-align:center;font-size:4.6px;line-height:8px;color:#93c83a">2,25</div>
<div class="a" style="left:419.92px;top:472.27px;width:20px;text-align:center;font-size:4.6px;line-height:8px;color:#93c83a">2,37</div>
<div class="a" style="left:437.02px;top:512.07px;width:20px;text-align:center;font-size:4.6px;line-height:8px;color:#93c83a">1,97</div>
<div class="a" style="left:454.12px;top:479.14px;width:20px;text-align:center;font-size:4.6px;line-height:8px;color:#93c83a">2,25</div>
<div class="a" style="left:471.21px;top:524.66px;width:20px;text-align:center;font-size:4.6px;line-height:8px;color:#93c83a">1,75</div>
<div class="a" style="left:488.31px;top:491.73px;width:20px;text-align:center;font-size:4.6px;line-height:8px;color:#93c83a">2,03</div>
<div class="a" style="left:505.40px;top:526.95px;width:20px;text-align:center;font-size:4.6px;line-height:8px;color:#93c83a">1,71</div>
<div class="a" style="left:522.50px;top:505.47px;width:20px;text-align:center;font-size:4.6px;line-height:8px;color:#e8404f">1,79</div>
<div class="c" style="left:50px;top:555.5px;width:501px;height:13.2px;background:#e2434f;color:#fff;font-size:8.25px;padding-left:6.5px;padding-top:0.3px">Top producing countries in F2024 (in % of total production)</div>
<div class="a" style="left:67.8px;top:574.8px;width:108.40px;height:128.80px;background:#89c454"></div>
<div class="a" style="left:71.00px;top:679.58px;font-size:19.4px;line-height:19.4px;color:#fff;white-space:nowrap;transform:scaleX(0.93);transform-origin:0 0">Italy 23%</div>
<div class="a" style="left:177.4px;top:574.8px;width:86.50px;height:128.80px;background:#fbb918"></div>
<div class="a" style="left:180.60px;top:691.42px;font-size:8.6px;line-height:8.6px;color:#fff;white-space:nowrap;transform:scaleX(1.036);transform-origin:0 0">Netherlands 18%</div>
<div class="a" style="left:265.6px;top:574.8px;width:74.60px;height:128.80px;background:#548233"></div>
<div class="a" style="left:268.30px;top:691.42px;font-size:8.6px;line-height:8.6px;color:#fff;white-space:nowrap;transform:scaleX(1.03);transform-origin:0 0">Belgium 16%</div>
<div class="a" style="left:341.6px;top:574.8px;width:63.80px;height:128.80px;background:#bfbf42"></div>
<div class="a" style="left:344.20px;top:691.76px;font-size:8.2px;line-height:8.2px;color:#fff;white-space:nowrap;transform:scaleX(0.97);transform-origin:0 0">Spain 14%</div>
<div class="a" style="left:407.2px;top:574.8px;width:64.40px;height:65.50px;background:#b7d897"></div>
<div class="a" style="left:409.90px;top:628.57px;font-size:7.6px;line-height:7.6px;color:#fff;white-space:nowrap;transform:scaleX(0.97);transform-origin:0 0">Portugal 7%</div>
<div class="a" style="left:407.2px;top:641.6px;width:64.40px;height:62.00px;background:#548233"></div>
<div class="a" style="left:409.90px;top:692.74px;font-size:7.4px;line-height:7.4px;color:#fff;white-space:nowrap;transform:scaleX(0.98);transform-origin:0 0">France 7%</div>
<div class="a" style="left:473.0px;top:574.8px;width:67.80px;height:49.00px;background:#548233"></div>
<div class="a" style="left:475.50px;top:613.81px;font-size:6.6px;line-height:6.6px;color:#fff;white-space:nowrap;transform:scaleX(0.99);transform-origin:0 0">Poland 6%</div>
<div class="a" style="left:473.0px;top:625.2px;width:67.80px;height:41.20px;background:#a67802"></div>
<div class="a" style="left:475.50px;top:657.52px;font-size:6.0px;line-height:6.0px;color:#fff;white-space:nowrap;transform:scaleX(0.98);transform-origin:0 0">Greece 5%</div>
<div class="a" style="left:473.0px;top:668.0px;width:33.80px;height:35.60px;background:#325522"></div>
<div class="a" style="left:474.90px;top:695.62px;font-size:4.7px;line-height:4.7px;color:#fff;white-space:nowrap;transform:scaleX(0.98);transform-origin:0 0">Germany 2%</div>
<div class="a" style="left:508.6px;top:668.0px;width:32.20px;height:35.60px;background:#6f7629"></div>
<div class="a" style="left:511.00px;top:695.71px;font-size:4.6px;line-height:4.6px;color:#fff;white-space:nowrap;transform:scaleX(0.98);transform-origin:0 0">Romania 2%</div>
</body></html>
